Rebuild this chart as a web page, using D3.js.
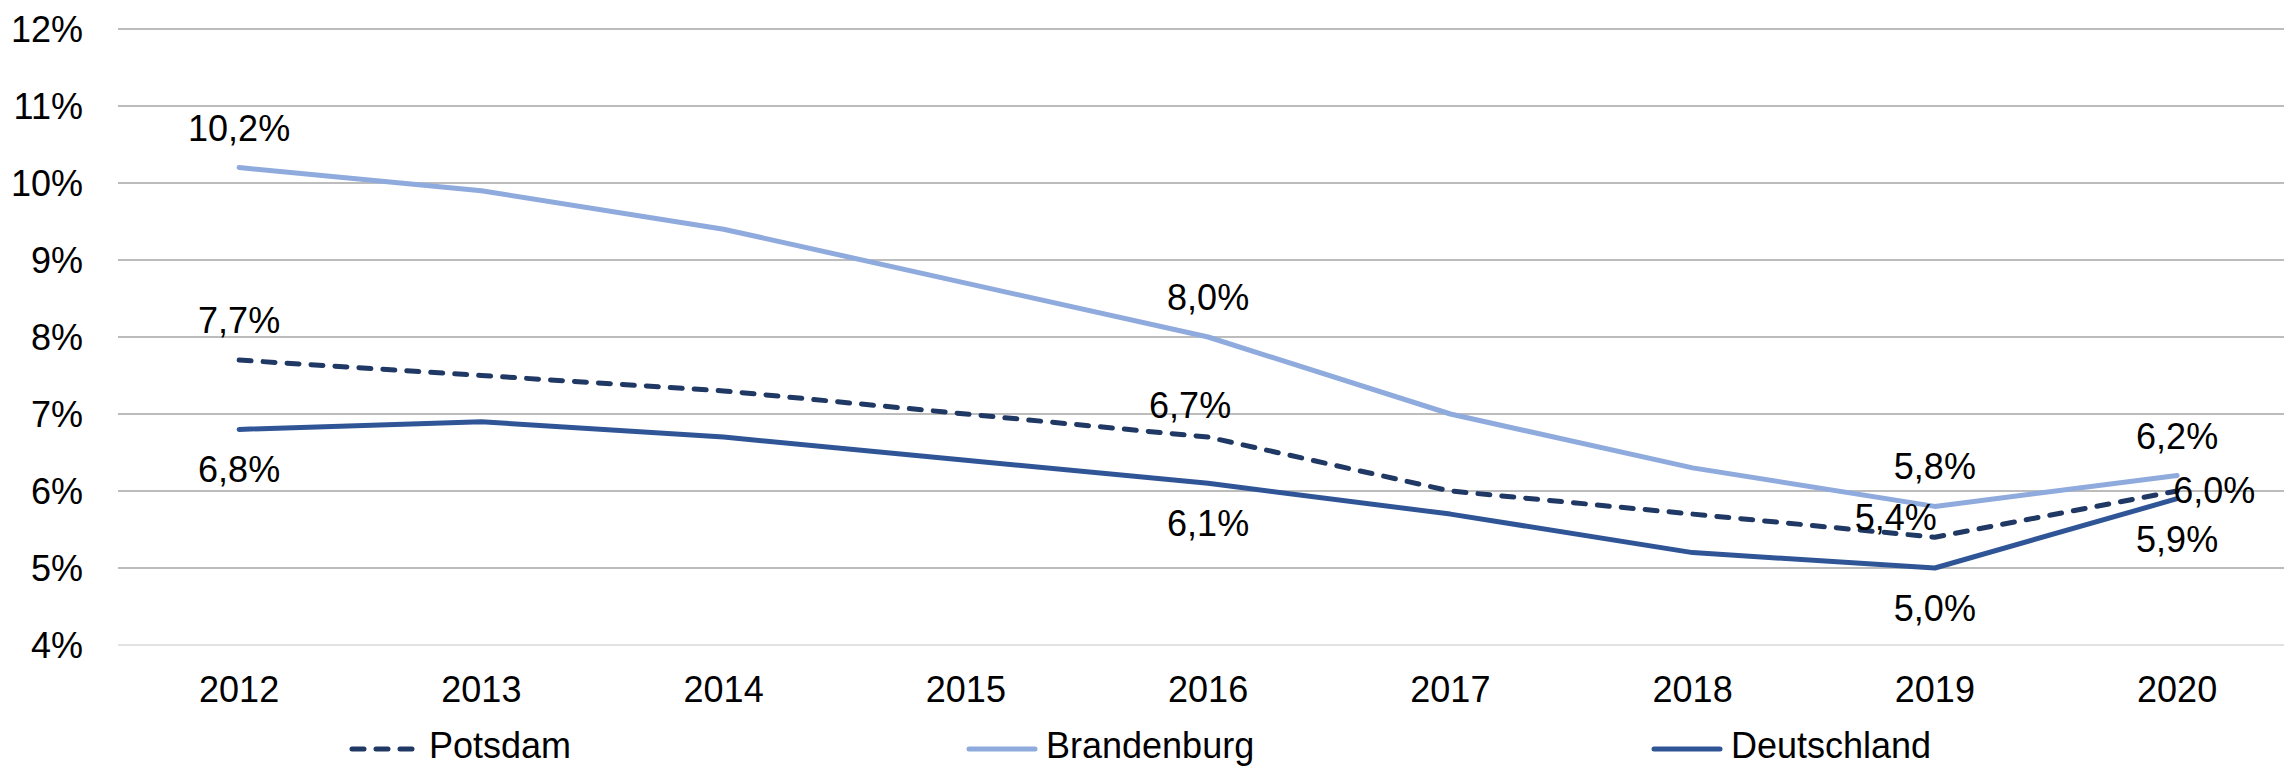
<!DOCTYPE html>
<html>
<head>
<meta charset="utf-8">
<script src="https://cdn.jsdelivr.net/npm/d3@7"></script>
<style>
  html, body { margin: 0; padding: 0; background: #fff; }
  svg text { font-family: "Liberation Sans", Arial, sans-serif; fill: #000; }
</style>
</head>
<body>
<div id="chart"></div>
<script>
// Data
const years = ['2012', '2013', '2014', '2015', '2016', '2017', '2018', '2019', '2020'];
const potsdam = [7.7, 7.5, 7.3, 7.0, 6.7, 6.0, 5.7, 5.4, 6.0];
const brandenburg = [10.2, 9.9, 9.4, 8.7, 8.0, 7.0, 6.3, 5.8, 6.2];
const deutschland = [6.8, 6.9, 6.7, 6.4, 6.1, 5.7, 5.2, 5.0, 5.9];
const yTicks = [4, 5, 6, 7, 8, 9, 10, 11, 12];

// which points carry a value label, and where
const potsdamLabels = {0: 'above', 4: 'aboveLeft', 7: 'left', 8: 'right'};
const brandenburgLabels = {0: 'above', 4: 'above', 7: 'above', 8: 'above'};
const deutschlandLabels = {0: 'below', 4: 'below', 7: 'below', 8: 'below'};

const width = 2284, height = 766;
const margin = {left: 118, top: 29, bottom: 121};
const bandW = 242.25;
const fontSize = '36px';

const svg = d3.select('#chart').append('svg')
  .attr('width', width)
  .attr('height', height);

const x = d3.scalePoint()
  .domain(years)
  .range([margin.left + bandW / 2, margin.left + bandW * (years.length - 0.5)]);

const y = d3.scaleLinear()
  .domain([4, 12])
  .range([height - margin.bottom, margin.top]);

const fmt = v => d3.format('.1f')(v).replace('.', ',') + '%';

// Gridlines
svg.append('g')
  .selectAll('line')
  .data(yTicks)
  .enter().append('line')
  .attr('x1', margin.left)
  .attr('x2', width)
  .attr('y1', d => y(d))
  .attr('y2', d => y(d))
  .attr('stroke', d => d === 4 ? '#d9d9d9' : '#a6a6a6')
  .attr('stroke-width', 1.5);

// Y axis labels
svg.append('g')
  .selectAll('text')
  .data(yTicks)
  .enter().append('text')
  .attr('x', 83)
  .attr('y', d => y(d) + 13)
  .attr('text-anchor', 'end')
  .style('font-size', fontSize)
  .text(d => d + '%');

// X axis labels
svg.append('g')
  .selectAll('text')
  .data(years)
  .enter().append('text')
  .attr('x', d => x(d))
  .attr('y', 702)
  .attr('text-anchor', 'middle')
  .style('font-size', fontSize)
  .text(d => d);

const series = [
  {name: 'Potsdam', values: potsdam, color: '#203864', dash: '12,12', labels: potsdamLabels, lx: 350},
  {name: 'Brandenburg', values: brandenburg, color: '#8faadc', dash: null, labels: brandenburgLabels, lx: 967},
  {name: 'Deutschland', values: deutschland, color: '#2f5597', dash: null, labels: deutschlandLabels, lx: 1652}
];

const line = d3.line()
  .x((d, i) => x(years[i]))
  .y(d => y(d));

// Lines
series.forEach(s => {
  svg.append('path')
    .datum(s.values)
    .attr('d', line)
    .attr('fill', 'none')
    .attr('stroke', s.color)
    .attr('stroke-width', 5)
    .attr('stroke-linejoin', 'round')
    .attr('stroke-linecap', 'round')
    .attr('stroke-dasharray', s.dash);
});

// Value labels
function labelPos(pos, px, py) {
  switch (pos) {
    case 'above': return {x: px, y: py - 27, anchor: 'middle'};
    case 'below': return {x: px, y: py + 53, anchor: 'middle'};
    case 'aboveLeft': return {x: px - 18, y: py - 19, anchor: 'middle'};
    case 'left': return {x: px + 2, y: py - 7, anchor: 'end'};
    case 'right': return {x: px - 4, y: py + 12, anchor: 'start'};
  }
}

series.forEach(s => {
  Object.keys(s.labels).forEach(k => {
    const i = +k;
    const p = labelPos(s.labels[k], x(years[i]), y(s.values[i]));
    svg.append('text')
      .attr('x', p.x)
      .attr('y', p.y)
      .attr('text-anchor', p.anchor)
      .style('font-size', fontSize)
      .text(fmt(s.values[i]));
  });
});

// Legend
const legend = svg.append('g');
series.forEach(s => {
  legend.append('line')
    .attr('x1', s.lx + 2)
    .attr('x2', s.lx + 68)
    .attr('y1', 749)
    .attr('y2', 749)
    .attr('stroke', s.color)
    .attr('stroke-width', 5)
    .attr('stroke-linecap', 'round')
    .attr('stroke-dasharray', s.dash);
  legend.append('text')
    .attr('x', s.lx + 79)
    .attr('y', 758)
    .style('font-size', fontSize)
    .text(s.name);
});
</script>
</body>
</html>
